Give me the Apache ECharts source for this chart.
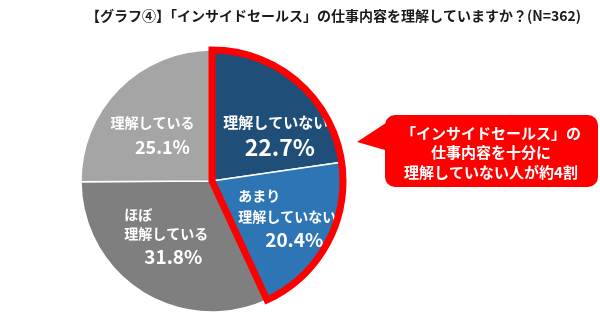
<!DOCTYPE html>
<html>
<head>
<meta charset="utf-8">
<script src="https://cdn.jsdelivr.net/npm/echarts@6/dist/echarts.min.js"></script>
<style>
html,body{margin:0;padding:0;background:#fff;}
#main{width:600px;height:333px;}
</style>
</head>
<body>
<div id="main"></div>
<script>
// ---- data ----
var titleText = '【グラフ④】「インサイドセールス」の仕事内容を理解していますか？(N=362)';
var categories = ['理解していない', 'あまり理解していない', 'ほぼ理解している', '理解している'];
var labelLines = [['理解していない'], ['あまり', '理解していない'], ['ほぼ', '理解している'], ['理解している']];
var values = [22.7, 20.4, 31.8, 25.1];
var highlightCount = 2; // first two slices outlined in red
var calloutLines = ['「インサイドセールス」の', '仕事内容を十分に', '理解していない人が約4割'];

// ---- styles ----
var FONT = '"Noto Sans CJK JP", "Noto Sans", sans-serif';
var colors = ['#1F4E79', '#2E75B6', '#7F7F7F', '#A5A5A5'];
var nameSizes = [15, 14, 14, 14];
var pctSizes = [23, 19, 19, 18];
var pctPad = [8, 14, 14, 20];
var labelShift = [[19, 7], [15, 5], [-9, -1], [-11, 3.5]];
var CX = 212, CY = 181, R = 131;

var pieData = categories.map(function (c, i) {
  var lines = labelLines[i];
  var nameLH = lines.length > 1 ? (i === 2 ? 19 : 21) : 22;
  var pctLH = lines.length > 1 ? (i === 2 ? 27 : 25) : 28;
  var rich = {
    n: { color: '#fff', fontSize: nameSizes[i], fontWeight: 'bold', fontFamily: FONT, lineHeight: nameLH, align: lines.length > 1 ? 'left' : 'center' },
    p: { color: '#fff', fontSize: pctSizes[i], fontWeight: 'bold', fontFamily: FONT, lineHeight: pctLH, align: 'center', padding: [0, 0, 0, pctPad[i]] }
  };
  return {
    name: c,
    value: values[i],
    itemStyle: { color: colors[i] },
    label: {
      rich: rich,
      formatter: function () {
        return lines.map(function (l) { return '{n|' + l + '}'; }).join('\n') + '\n{p|' + values[i].toFixed(1) + '%}';
      }
    }
  };
});

var hiSum = values.slice(0, highlightCount).reduce(function (a, b) { return a + b; }, 0);
var restSum = values.slice(highlightCount).reduce(function (a, b) { return a + b; }, 0);

var chart = echarts.init(document.getElementById('main'), null, { renderer: 'canvas' });
chart.setOption({
  animation: false,
  backgroundColor: '#fff',
  title: {
    text: titleText,
    left: 81,
    top: 4,
    textStyle: { fontSize: 14, fontWeight: 'bold', color: '#1a1a1a', fontFamily: FONT }
  },
  series: [
    {
      type: 'pie',
      center: [CX, CY],
      radius: [0, R],
      startAngle: 90,
      clockwise: true,
      silent: true,
      itemStyle: { borderColor: '#fff', borderWidth: 1.5 },
      label: { show: true, position: 'inside', align: 'center', verticalAlign: 'middle' },
      labelLine: { show: false },
      labelLayout: function (p) {
        return { dx: labelShift[p.dataIndex][0], dy: labelShift[p.dataIndex][1] };
      },
      data: pieData,
      z: 2
    },
    {
      type: 'pie',
      center: [CX, CY],
      radius: [0, R],
      startAngle: 90,
      clockwise: true,
      silent: true,
      label: { show: false },
      labelLine: { show: false },
      data: [
        { value: hiSum, itemStyle: { color: 'rgba(0,0,0,0)', borderColor: '#FF0000', borderWidth: 7, borderJoin: 'miter' } },
        { value: restSum, itemStyle: { color: 'rgba(0,0,0,0)', borderWidth: 0 } }
      ],
      z: 5
    }
  ],
  graphic: [
    {
      type: 'group',
      children: [
        { type: 'polygon', shape: { points: [[357, 142], [392, 119], [392, 152]] }, style: { fill: '#FF0000' } },
        { type: 'rect', shape: { x: 385, y: 115, width: 213, height: 72, r: 10 }, style: { fill: '#FF0000' } },
        {
          type: 'text', x: 491, y: 152.5,
          style: {
            text: calloutLines.join('\n'),
            fill: '#fff', font: 'bold 15px ' + FONT, lineHeight: 19.5,
            align: 'center', verticalAlign: 'middle'
          }
        }
      ]
    }
  ]
});
</script>
</body>
</html>
